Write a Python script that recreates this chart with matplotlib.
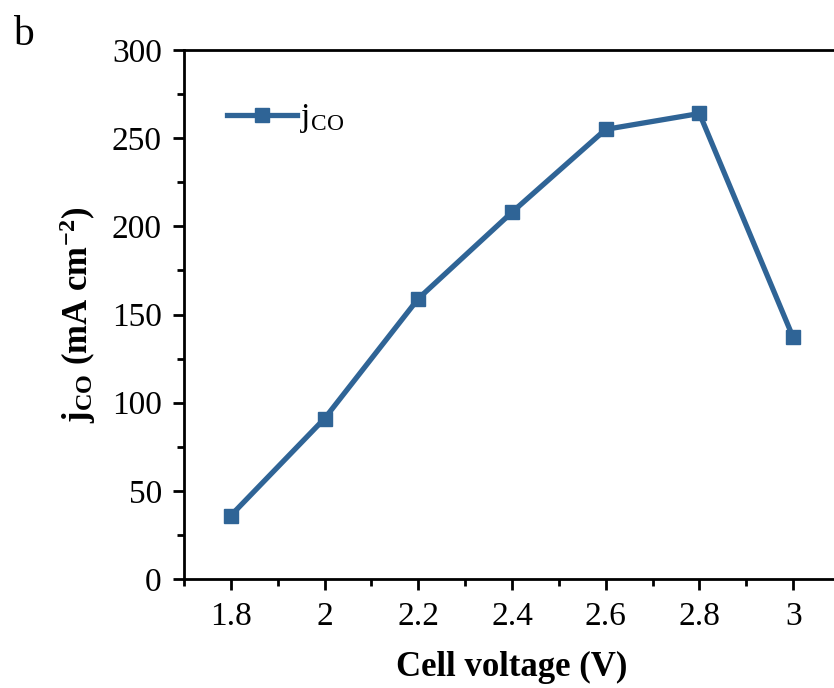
import matplotlib
matplotlib.use("Agg")
import matplotlib.pyplot as plt
from matplotlib.ticker import MultipleLocator

# cell voltage sweep and CO partial current density
voltage = [1.8, 2.0, 2.2, 2.4, 2.6, 2.8, 3.0]
j_co = [36, 91, 159, 208, 255, 264, 137]
x_ticks = [1.8, 2.0, 2.2, 2.4, 2.6, 2.8, 3.0]
x_ticklabels = ["1.8", "2", "2.2", "2.4", "2.6", "2.8", "3"]

plt.rcParams["font.family"] = "Liberation Serif"
plt.rcParams["mathtext.fontset"] = "custom"
plt.rcParams["mathtext.rm"] = "Liberation Serif"
plt.rcParams["mathtext.it"] = "Liberation Serif:italic"
plt.rcParams["mathtext.bf"] = "Liberation Serif:bold"

fig = plt.figure(figsize=(8.34, 6.88), dpi=100)
ax = fig.add_axes([0.2206, 0.1584, 0.7866, 0.7689])

color = "#2f6496"
ax.plot(voltage, j_co, color=color, lw=3.8, marker="s", ms=10,
        label=r"j$_{\rm CO}$")

ax.set_xlim(1.7, 3.1)
ax.set_ylim(0, 300)
ax.set_xticks(x_ticks)
ax.set_xticklabels(x_ticklabels)
ax.xaxis.set_minor_locator(MultipleLocator(0.1))
ax.yaxis.set_major_locator(MultipleLocator(50))
ax.yaxis.set_minor_locator(MultipleLocator(25))

ax.tick_params(which="major", direction="out", length=8, width=2,
               labelsize=24, pad=8)
ax.tick_params(which="minor", direction="out", length=5, width=2)
ax.spines["right"].set_visible(False)
for s in ["left", "bottom", "top"]:
    ax.spines[s].set_linewidth(2)

ax.set_xlabel("Cell voltage (V)", fontsize=25, fontweight="bold", labelpad=14)
ax.set_ylabel(r"$\mathbf{j}_{\mathbf{CO}}$ (mA cm$^{\mathbf{-2}}$)",
              fontsize=25, fontweight="bold", labelpad=10)

ax.legend(loc="upper left", bbox_to_anchor=(0.02, 0.958), frameon=False,
          fontsize=24, handlelength=2.1, handletextpad=0.1)

fig.text(0.016, 0.935, "b", fontsize=30)

fig.savefig("out.png", dpi=100)
